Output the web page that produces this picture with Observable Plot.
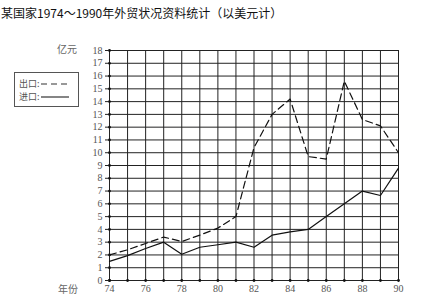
<!DOCTYPE html>
<html><head><meta charset="utf-8">
<script src="https://cdn.jsdelivr.net/npm/d3@7"></script>
<script src="https://cdn.jsdelivr.net/npm/@observablehq/plot@0.6"></script>
<style>
body{margin:0;background:#fff;}
#wrap{position:relative;width:446px;height:296px;overflow:hidden;}
#title{height:26px;line-height:26px;font-family:"Noto Sans CJK SC";font-size:12px;color:#111;white-space:nowrap;padding-left:1px;}
.lab{position:absolute;font-family:"Noto Sans CJK SC";font-size:10px;color:#666;white-space:nowrap;}
#legend{position:absolute;left:14px;top:72px;width:65px;height:35px;border:1px solid #555;box-sizing:border-box;font-family:"Noto Sans CJK SC";font-size:9px;color:#555;background:#fff;}
#legend div{height:13px;line-height:13px;margin-left:4px;display:flex;align-items:center;white-space:nowrap;}
#legend div:first-child{margin-top:4px;}
#veil{position:absolute;left:0;top:120px;width:440px;height:10px;background:rgba(255,255,200,0.01);margin:0;pointer-events:none;}
</style></head>
<body><div id="wrap">
<div id="title">某国家1974～1990年外贸状况资料统计（以美元计）</div>
<div id="chart"></div>
<div class="lab" style="left:57px;top:41px;">亿元</div>
<div class="lab" style="left:58px;top:281px;">年份</div>
<div id="legend"></div>
<pre id="veil"></pre>
</div>
<script>
const years = [74,75,76,77,78,79,80,81,82,83,84,85,86,87,88,89,90];
const exportValues = [2.0,2.4,2.9,3.4,3.05,3.55,4.1,5.0,10.4,13.0,14.2,9.7,9.5,15.6,12.6,12.1,10.0];
const importValues = [1.5,1.95,2.5,3.0,2.05,2.6,2.8,3.0,2.6,3.55,3.8,4.0,5.0,6.0,7.0,6.65,8.8];
const xTickLabels = [74,76,78,80,82,84,86,88,90];
const yTicks = [0,1,2,3,4,5,6,7,8,9,10,11,12,13,14,15,16,17,18];
const seriesNames = ["出口", "进口"];

const exportRows = years.map((y,i)=>({year:y, v:exportValues[i]}));
const importRows = years.map((y,i)=>({year:y, v:importValues[i]}));

const chart = Plot.plot({
  width:446, height:270,
  marginLeft:109, marginRight:48, marginTop:24, marginBottom:16,
  style:{fontFamily:"Liberation Serif", fontSize:"10px", color:"#555", background:"#fff"},
  x:{domain:[74,90]},
  y:{domain:[0,18]},
  marks:[
    Plot.gridX(years, {stroke:"#222", strokeOpacity:1, strokeWidth:1}),
    Plot.gridY(yTicks, {stroke:"#222", strokeOpacity:1, strokeWidth:1}),
    Plot.dot(yTicks.map(v=>({x:74, y:v})), {x:"x", y:"y", r:1.4, fill:"#111"}),
    Plot.dot(years.map(v=>({x:v, y:0})), {x:"x", y:"y", r:1.4, fill:"#111"}),
    Plot.line(exportRows, {x:"year", y:"v", stroke:"#111", strokeWidth:1.2, strokeDasharray:"7,4"}),
    Plot.line(importRows, {x:"year", y:"v", stroke:"#111", strokeWidth:1.2}),
    Plot.axisY(yTicks, {tickSize:4, tickPadding:3, label:null, stroke:"#222", fill:"#555"}),
    Plot.axisX(xTickLabels, {tickSize:0, tickPadding:4, label:null, fill:"#555", tickFormat:d=>String(d)})
  ]
});
document.getElementById("chart").appendChild(chart);
chart.getBoundingClientRect();

const lg = document.getElementById("legend");
seriesNames.forEach((n,i)=>{
  const row = document.createElement("div");
  row.innerHTML = `<span>${n}:</span><svg width="30" height="6"><line x1="1" y1="3" x2="29" y2="3" stroke="#333" stroke-width="1.2" ${i===0?'stroke-dasharray="6,4"':''}/></svg>`;
  lg.appendChild(row);
});
</script>
</body></html>
